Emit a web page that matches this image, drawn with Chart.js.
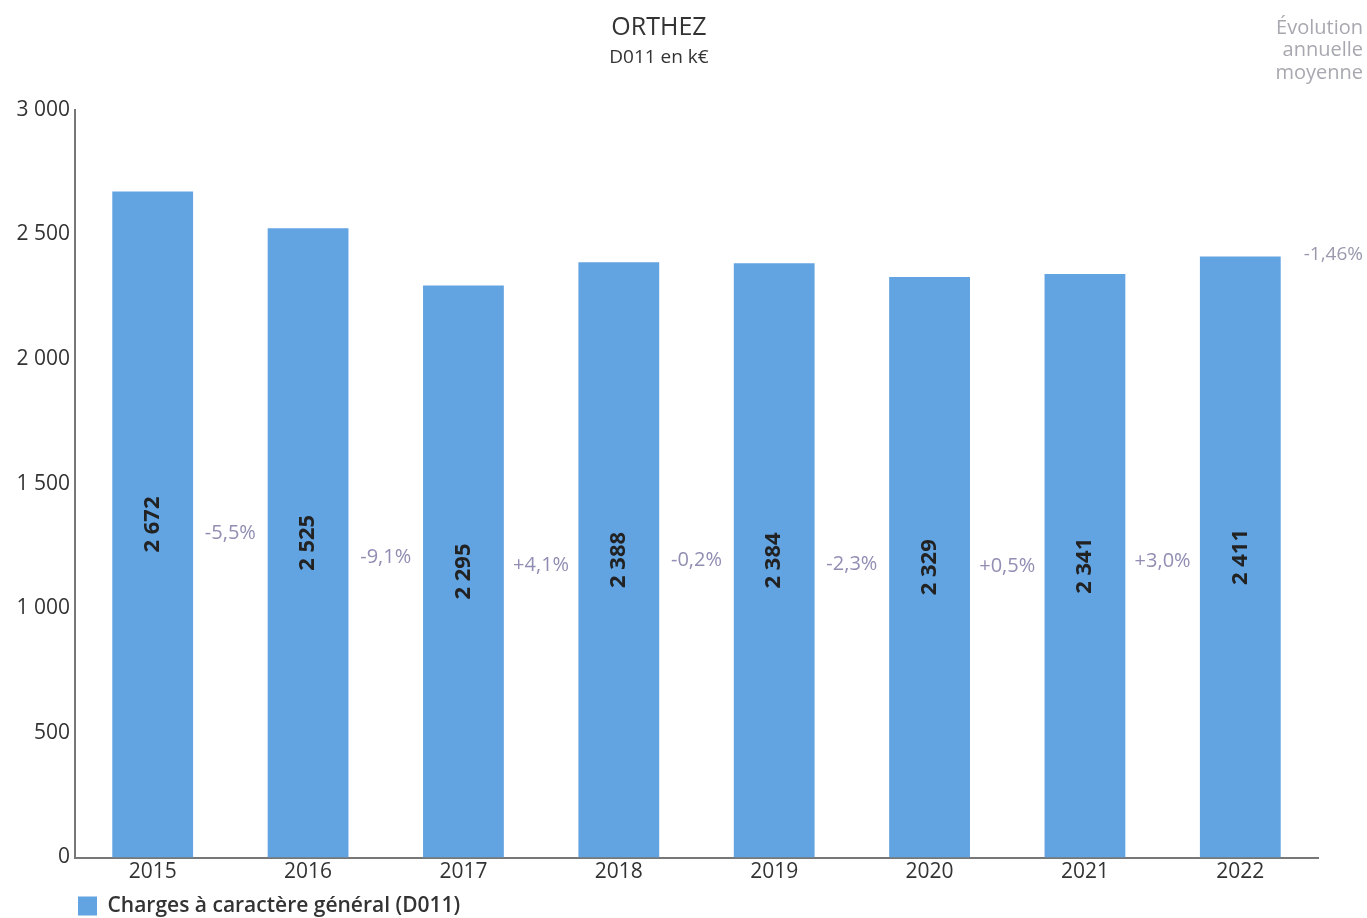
<!DOCTYPE html>
<html lang="fr">
<head>
<meta charset="utf-8">
<script src="https://cdn.jsdelivr.net/npm/chart.js@4/dist/chart.umd.min.js"></script>
<style>
  html, body { margin: 0; padding: 0; background: #fff; }
  #wrap { width: 1367px; height: 918px; }
</style>
</head>
<body>
<div id="wrap"><canvas id="d011"></canvas></div>
<script>
const years = ['2015', '2016', '2017', '2018', '2019', '2020', '2021', '2022'];
const d011 = [2672, 2525, 2295, 2388, 2384, 2329, 2341, 2411];
const evolutions = ['-5,5%', '-9,1%', '+4,1%', '-0,2%', '-2,3%', '+0,5%', '+3,0%'];
const moyenne = '-1,46%';
const moyenneTitle = ['Évolution', 'annuelle', 'moyenne'];

const FONT = "'Open Sans', 'Noto Sans', sans-serif";
const fmt = v => String(v).replace(/\B(?=(\d{3})+(?!\d))/g, ' ');

// labels in the bars, growth rates between them, average at right
const labelsPlugin = {
    id: 'labels',
    afterLayout(chart) {
        // legend sits under the axis, not at the canvas edge
        chart.legend.left += 72;
    },
    afterDatasetsDraw(chart) {
        const ctx = chart.ctx;
        const y = chart.scales.y;
        const bars = chart.getDatasetMeta(0).data;
        ctx.save();
        ctx.textBaseline = 'middle';

        ctx.font = `bold 22px ${FONT}`;
        ctx.fillStyle = '#222';
        ctx.textAlign = 'center';
        bars.forEach((bar, i) => {
            ctx.save();
            ctx.translate(bar.x, y.getPixelForValue(d011[i] / 2));
            ctx.rotate(-Math.PI / 2);
            ctx.fillText(fmt(d011[i]), 0, 0);
            ctx.restore();
        });

        ctx.font = `20px ${FONT}`;
        ctx.fillStyle = '#918db3';
        evolutions.forEach((txt, i) => {
            const x = (bars[i].x + bars[i + 1].x) / 2;
            ctx.fillText(txt, x, y.getPixelForValue((d011[i] + d011[i + 1]) / 4));
        });

        ctx.textAlign = 'right';
        ctx.font = `19px ${FONT}`;
        ctx.fillStyle = '#9a98ad';
        ctx.fillText(moyenne, chart.width - 4, y.getPixelForValue(d011[d011.length - 1]) - 2);

        ctx.font = `20px ${FONT}`;
        ctx.fillStyle = '#a8a8b0';
        moyenneTitle.forEach((t, i) => ctx.fillText(t, chart.width - 4, 28 + i * 22.5));
        ctx.restore();
    }
};

new Chart(document.getElementById('d011'), {
    type: 'bar',
    data: {
        labels: years,
        datasets: [{
            label: 'Charges à caractère général (D011)',
            data: d011,
            backgroundColor: '#62a3e2',
            categoryPercentage: 1,
            barPercentage: 0.52
        }]
    },
    options: {
        responsive: true,
        maintainAspectRatio: false,
        animation: false,
        layout: {padding: {top: 5, right: 49, bottom: 0, left: 0}},
        scales: {
            x: {
                grid: {display: false, drawTicks: false},
                border: {display: true, color: '#777', width: 2},
                ticks: {color: '#333', padding: 2, font: {family: FONT, size: 21}},
                afterFit: scale => { scale.height = 32; }
            },
            y: {
                min: 0, max: 3000,
                grid: {display: false, drawTicks: false},
                border: {display: true, color: '#777', width: 2},
                ticks: {
                    stepSize: 500, color: '#333', padding: 5,
                    font: {family: FONT, size: 21},
                    callback: v => fmt(v)
                },
                afterFit: scale => { scale.width = 75; }
            }
        },
        plugins: {
            title: {
                display: true, text: 'ORTHEZ', color: '#333',
                font: {family: FONT, size: 25, weight: 'normal'},
                padding: {top: 8, bottom: 2}
            },
            subtitle: {
                display: true, text: 'D011 en k€', color: '#333',
                font: {family: FONT, size: 19},
                padding: {top: 1, bottom: 41}
            },
            legend: {
                position: 'bottom', align: 'start', maxHeight: 28.5,
                labels: {
                    boxWidth: 19, boxHeight: 19, padding: 6, color: '#333',
                    font: {family: FONT, size: 21, weight: '600'}
                }
            },
            tooltip: {enabled: false}
        }
    },
    plugins: [labelsPlugin]
});
</script>
</body>
</html>
